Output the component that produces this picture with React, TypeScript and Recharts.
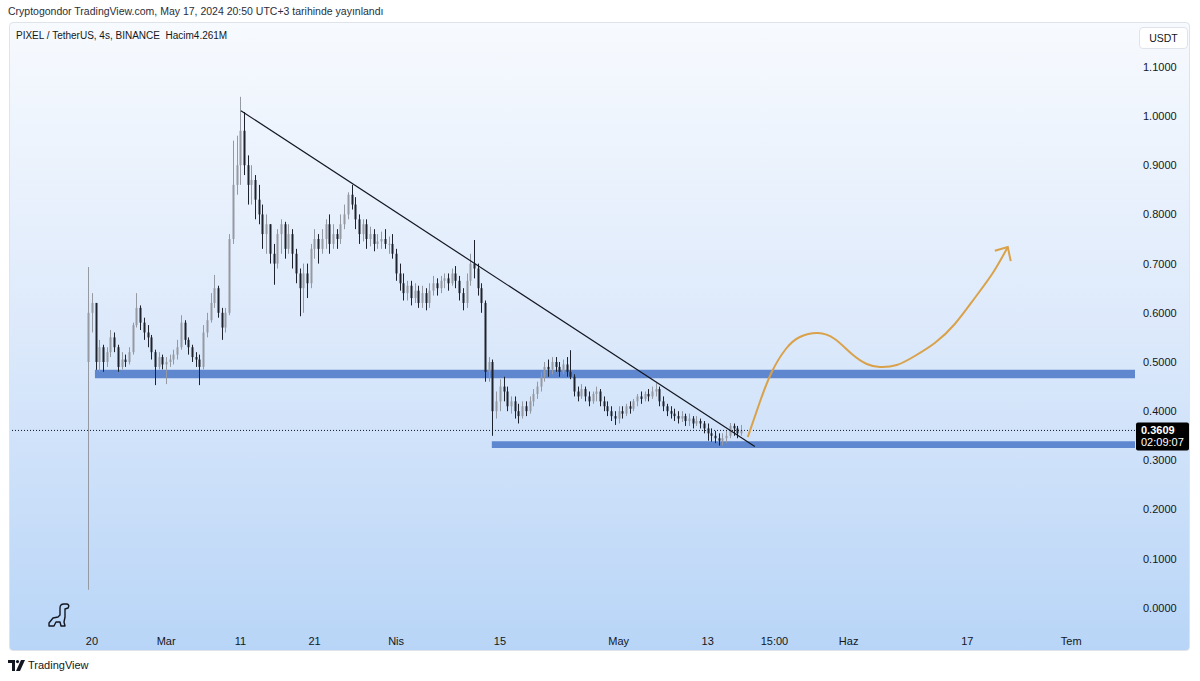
import { ComposedChart, Bar, Line, XAxis, YAxis, ReferenceLine, ReferenceArea } from 'recharts';

// PIXEL/USDT, candles resampled to 12h, day 0 = Feb 20
const FIRST_DAY = -0.5;
const CANDLE_STEP = 0.5;
const firstOpen = 0.5;

const closes = [
  0.6, 0.62, 0.5, 0.53, 0.5, 0.52, 0.55, 0.53, 0.49, 0.505,
  0.5, 0.52, 0.575, 0.61, 0.58, 0.56, 0.55, 0.52, 0.49, 0.51,
  0.495, 0.5, 0.505, 0.515, 0.53, 0.58, 0.545, 0.53, 0.51, 0.505,
  0.49, 0.56, 0.585, 0.62, 0.65, 0.6, 0.57, 0.6, 0.75, 0.86,
  0.9, 0.97, 0.9, 0.86, 0.87, 0.83, 0.8, 0.76, 0.78, 0.72,
  0.7, 0.76, 0.78, 0.73, 0.76, 0.72, 0.68, 0.65, 0.68, 0.66,
  0.73, 0.75, 0.73, 0.75, 0.78, 0.74, 0.76, 0.75, 0.78, 0.8,
  0.84, 0.82, 0.79, 0.76, 0.78, 0.75, 0.76, 0.74, 0.745, 0.75,
  0.74, 0.74, 0.72, 0.68, 0.66, 0.64, 0.655, 0.63, 0.645, 0.62,
  0.64, 0.62, 0.645, 0.66, 0.65, 0.665, 0.67, 0.66, 0.68, 0.665,
  0.64, 0.62, 0.665, 0.7, 0.69, 0.65, 0.62, 0.48, 0.5, 0.4,
  0.42, 0.45, 0.44, 0.41, 0.42, 0.4, 0.39, 0.41, 0.4, 0.42,
  0.435, 0.45, 0.47, 0.49, 0.485, 0.5, 0.49, 0.48, 0.495, 0.48,
  0.47, 0.44, 0.43, 0.445, 0.43, 0.42, 0.435, 0.44, 0.42, 0.41,
  0.4, 0.39, 0.385, 0.4, 0.395, 0.41, 0.405, 0.42, 0.43, 0.425,
  0.435, 0.43, 0.44, 0.445, 0.42, 0.41, 0.4, 0.395, 0.39, 0.385,
  0.39, 0.38, 0.385, 0.375, 0.38, 0.375, 0.365, 0.355, 0.35, 0.345,
  0.34, 0.345, 0.35, 0.37, 0.365, 0.355, 0.3609,
];

const highs = [
  0.693, 0.64, 0.62, 0.545, 0.535, 0.53, 0.565, 0.56, 0.535, 0.52,
  0.515, 0.53, 0.58, 0.64, 0.615, 0.59, 0.575, 0.555, 0.525, 0.52,
  0.515, 0.51, 0.515, 0.525, 0.545, 0.595, 0.585, 0.55, 0.535, 0.52,
  0.515, 0.575, 0.6, 0.64, 0.677, 0.655, 0.61, 0.61, 0.76, 0.95,
  0.96, 1.039, 1.008, 0.92, 0.9, 0.88, 0.86, 0.82, 0.8, 0.78,
  0.74, 0.77, 0.79, 0.785, 0.78, 0.77, 0.73, 0.69, 0.7, 0.7,
  0.74, 0.77, 0.76, 0.77, 0.79, 0.8, 0.78, 0.77, 0.8, 0.82,
  0.845, 0.86, 0.835, 0.8, 0.79, 0.79, 0.775, 0.77, 0.76, 0.765,
  0.77, 0.755, 0.76, 0.73, 0.7, 0.68, 0.665, 0.665, 0.66, 0.655,
  0.655, 0.65, 0.66, 0.675, 0.67, 0.675, 0.68, 0.68, 0.69, 0.695,
  0.675, 0.65, 0.68, 0.72, 0.748, 0.7, 0.66, 0.625, 0.51, 0.505,
  0.44, 0.465, 0.47, 0.45, 0.43, 0.43, 0.415, 0.42, 0.42, 0.43,
  0.445, 0.46, 0.48, 0.5, 0.505, 0.51, 0.51, 0.5, 0.505, 0.51,
  0.524, 0.475, 0.45, 0.455, 0.45, 0.44, 0.44, 0.45, 0.445, 0.43,
  0.42, 0.41, 0.4, 0.41, 0.41, 0.415, 0.42, 0.425, 0.435, 0.44,
  0.44, 0.445, 0.45, 0.457, 0.45, 0.43, 0.415, 0.41, 0.405, 0.4,
  0.4, 0.395, 0.395, 0.39, 0.39, 0.385, 0.38, 0.375, 0.365, 0.36,
  0.355, 0.355, 0.36, 0.376, 0.375, 0.37, 0.372,
];

const lows = [
  0.037, 0.56, 0.484, 0.48, 0.48, 0.49, 0.51, 0.52, 0.48, 0.485,
  0.49, 0.495, 0.515, 0.57, 0.565, 0.545, 0.53, 0.505, 0.453, 0.485,
  0.485, 0.455, 0.49, 0.495, 0.505, 0.525, 0.535, 0.515, 0.5, 0.49,
  0.453, 0.485, 0.55, 0.58, 0.61, 0.59, 0.545, 0.56, 0.595, 0.74,
  0.84, 0.86, 0.88, 0.82, 0.82, 0.79, 0.78, 0.73, 0.72, 0.7,
  0.657, 0.69, 0.72, 0.71, 0.72, 0.69, 0.66, 0.593, 0.6, 0.63,
  0.65, 0.71, 0.7, 0.72, 0.73, 0.72, 0.73, 0.73, 0.74, 0.77,
  0.79, 0.81, 0.77, 0.74, 0.745, 0.73, 0.735, 0.725, 0.73, 0.73,
  0.73, 0.72, 0.71, 0.665, 0.645, 0.625, 0.625, 0.615, 0.62, 0.61,
  0.61, 0.605, 0.61, 0.635, 0.635, 0.64, 0.65, 0.645, 0.655, 0.65,
  0.625, 0.605, 0.61, 0.655, 0.67, 0.635, 0.6, 0.46, 0.46, 0.35,
  0.385, 0.4, 0.42, 0.4, 0.395, 0.385, 0.375, 0.385, 0.39, 0.395,
  0.41, 0.425, 0.44, 0.46, 0.47, 0.475, 0.48, 0.47, 0.475, 0.47,
  0.465, 0.43, 0.42, 0.425, 0.42, 0.41, 0.415, 0.42, 0.41, 0.4,
  0.39, 0.38, 0.372, 0.375, 0.385, 0.39, 0.395, 0.4, 0.41, 0.415,
  0.42, 0.42, 0.425, 0.43, 0.41, 0.4, 0.39, 0.385, 0.38, 0.375,
  0.378, 0.37, 0.37, 0.365, 0.37, 0.365, 0.355, 0.34, 0.338, 0.335,
  0.33, 0.33, 0.335, 0.345, 0.35, 0.345, 0.35,
];

const lastPrice = 0.3609;
const countdown = '02:09:07';

// time axis (days from Feb 20)
const X_MIN = -11.05;
const X_MAX = 140.6;
const tickDays = [0, 10, 20, 30, 41, 55, 71, 83, 92, 102, 118, 132];
const tickLabels = ['20', 'Mar', '11', '21', 'Nis', '15', 'May', '13', '15:00', 'Haz', '17', 'Tem'];

const Y_MIN = -0.0407;
const Y_MAX = 1.185;
const priceTicks = [0, 0.1, 0.2, 0.3, 0.4, 0.5, 0.6, 0.7, 0.8, 0.9, 1.0, 1.1];

// drawings
const trendFrom = { x: 20.08, y: 1.0107 };
const trendTo = { x: 89.35, y: 0.328 };
const upperBand = { from: 0.4, y1: 0.467, y2: 0.484 };
const lowerBand = { from: 53.9, y1: 0.325, y2: 0.339 };

const arcDays = [88.41, 90.03, 91.64, 93.53, 95.42, 97.84, 100.13, 102.43, 104.45, 106.2, 108.49, 110.92, 113.61, 116.31, 119.0, 121.43, 123.45];
const arcPrices = [0.3476, 0.4187, 0.4797, 0.5264, 0.5508, 0.5589, 0.5467, 0.5163, 0.4959, 0.4898, 0.4939, 0.5122, 0.5386, 0.5772, 0.6301, 0.6809, 0.7337];
const arrowDays = [121.7, 123.45, 123.85];
const arrowPrices = [0.726, 0.7337, 0.705];

const UP = '#9599a2';
const DOWN = '#1e222d';
const BAND = '#5f87cf';
const ORANGE = '#d9a24a';
const TEXT = '#131722';
const FONT = '"Liberation Sans", Arial, sans-serif';

const candles = closes.map((c, i) => ({
  t: FIRST_DAY + i * CANDLE_STEP,
  o: i === 0 ? firstOpen : closes[i - 1],
  c,
  h: highs[i],
  l: lows[i],
  range: [lows[i], highs[i]],
}));
const arc = arcDays.map((t, i) => ({ t, p: arcPrices[i] }));
const arrow = arrowDays.map((t, i) => ({ t, p: arrowPrices[i] }));

function Candle(props: any) {
  const { x, y, width, height, payload } = props;
  if (!payload || x == null) return null;
  const { o, c, h, l } = payload;
  const color = c >= o ? UP : DOWN;
  const top = Math.min(y, y + height);
  const hgt = Math.abs(height);
  const perUnit = h > l ? hgt / (h - l) : 0;
  const bodyTop = top + (h - Math.max(o, c)) * perUnit;
  const bodyH = Math.max(1, Math.abs(o - c) * perUnit);
  const cx = Math.round(x + width / 2) + 0.5;
  return (
    <g>
      <line x1={cx} x2={cx} y1={top} y2={top + hgt} stroke={color} strokeWidth={1} />
      <rect x={cx - 1} y={bodyTop} width={2} height={bodyH} fill={color} />
    </g>
  );
}

function PriceTag(props: any) {
  const vb = props.viewBox;
  if (!vb) return null;
  const x = vb.x + vb.width + 1;
  const y = vb.y;
  return (
    <g fontFamily={FONT}>
      <rect x={x} y={y - 8} width={53} height={28} rx={2} fill="#000" />
      <text x={x + 5} y={y + 4} fill="#fff" fontSize={11} fontWeight={700}>{lastPrice.toFixed(4)}</text>
      <text x={x + 5} y={y + 16} fill="#fff" fontSize={11}>{countdown}</text>
    </g>
  );
}

export default function App() {
  return (
    <div style={{ position: 'fixed', left: 0, top: 0, width: 1200, height: 681, background: '#fff', overflow: 'hidden', fontFamily: FONT, color: TEXT }}>
      <div style={{ position: 'absolute', left: 8, top: 5, fontSize: 10.5, color: '#2a2e39', whiteSpace: 'nowrap' }}>
        Cryptogondor TradingView.com, May 17, 2024 20:50 UTC+3 tarihinde yayınlandı
      </div>
      <div
        style={{
          position: 'absolute', left: 9, top: 22, width: 1181, height: 629, boxSizing: 'border-box',
          border: '1px solid #dfe3ea', borderRadius: 4,
          background: 'linear-gradient(to bottom, #f7fafe 0%, #dce9fb 50%, #b8d5f7 100%)',
        }}
      />
      <div style={{ position: 'absolute', left: 0, top: 0 }}>
        <ComposedChart width={1200} height={681} data={candles} margin={{ top: 25, right: 10, bottom: 23, left: 10 }}>
          <XAxis
            dataKey="t"
            type="number"
            domain={[X_MIN, X_MAX]}
            allowDataOverflow
            ticks={tickDays}
            tickFormatter={(v: number) => tickLabels[tickDays.indexOf(v)] ?? ''}
            axisLine={false}
            tickLine={false}
            tickSize={0}
            tickMargin={9}
            height={30}
            interval={0}
            tick={{ fontSize: 11, fill: TEXT, fontFamily: FONT }}
          />
          <YAxis
            orientation="right"
            type="number"
            domain={[Y_MIN, Y_MAX]}
            allowDataOverflow
            ticks={priceTicks}
            tickFormatter={(v: number) => v.toFixed(4)}
            axisLine={false}
            tickLine={false}
            tickSize={0}
            tickMargin={8}
            width={55}
            interval={0}
            tick={{ fontSize: 11, fill: TEXT, fontFamily: FONT }}
          />
          <ReferenceArea x1={upperBand.from} x2={X_MAX} y1={upperBand.y1} y2={upperBand.y2} fill={BAND} fillOpacity={1} stroke="none" />
          <ReferenceArea x1={lowerBand.from} x2={X_MAX} y1={lowerBand.y1} y2={lowerBand.y2} fill={BAND} fillOpacity={1} stroke="none" />
          <ReferenceLine y={lastPrice} stroke={TEXT} strokeDasharray="1 2" strokeWidth={1} label={<PriceTag />} />
          <Bar dataKey="range" barSize={3} shape={<Candle />} isAnimationActive={false} />
          <ReferenceLine segment={[trendFrom, trendTo]} stroke={TEXT} strokeWidth={1.2} />
          <Line data={arc} dataKey="p" type="natural" stroke={ORANGE} strokeWidth={2} dot={false} activeDot={false} isAnimationActive={false} />
          <Line data={arrow} dataKey="p" type="linear" stroke={ORANGE} strokeWidth={2} dot={false} activeDot={false} isAnimationActive={false} />
        </ComposedChart>
      </div>
      <div style={{ position: 'absolute', left: 16, top: 30, fontSize: 10, whiteSpace: 'nowrap' }}>
        PIXEL / TetherUS, 4s, BINANCE&nbsp;&nbsp;Hacim4.261M
      </div>
      <div
        style={{
          position: 'absolute', left: 1139, top: 27, width: 49, height: 22, boxSizing: 'border-box',
          background: '#fff', border: '1px solid #e0e3eb', borderRadius: 4, fontSize: 10.5,
          display: 'flex', alignItems: 'center', justifyContent: 'center',
        }}
      >
        USDT
      </div>
      <svg style={{ position: 'absolute', left: 46, top: 602 }} width={28} height={26} viewBox="0 0 28 26">
        <path
          d="M3 24 L3 21 L7 16 L12 15 L14 13 L14 6 Q14 2 18 2 L21 2 Q24 3 22 6 L19 7 L19 15 L18 20 L19 24 L15 24 L14 20 L10 20 L8 24 Z"
          fill="none" stroke={TEXT} strokeWidth={1.4} strokeLinejoin="round"
        />
      </svg>
      <div style={{ position: 'absolute', left: 8, top: 659, display: 'flex', alignItems: 'center', fontSize: 11, whiteSpace: 'nowrap' }}>
        <svg width={17} height={11} viewBox="0 0 17 11" style={{ marginRight: 3 }}>
          <path d="M0 0 H7 V11 H4 V3 H0 Z" fill={TEXT} />
          <circle cx={9.5} cy={1.6} r={1.6} fill={TEXT} />
          <path d="M13 0 H17 L12 11 H8 Z" fill={TEXT} />
        </svg>
        TradingView
      </div>
    </div>
  );
}
